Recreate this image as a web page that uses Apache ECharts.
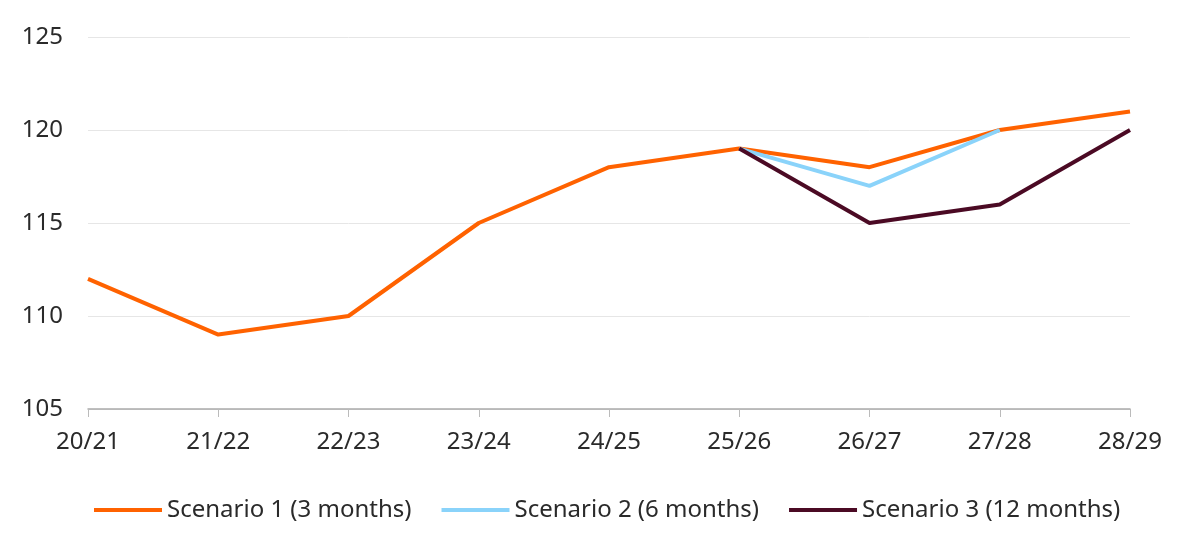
<!DOCTYPE html>
<html>
<head>
<meta charset="utf-8">
<script src="https://cdn.jsdelivr.net/npm/echarts@6/dist/echarts.min.js"></script>
<style>
  html, body { margin: 0; padding: 0; background: #fff; }
  #main { width: 1200px; height: 553px; }
</style>
</head>
<body>
<div id="main"></div>
<script>
var myChart = echarts.init(document.getElementById('main'));

const years = ['20/21', '21/22', '22/23', '23/24', '24/25', '25/26', '26/27', '27/28', '28/29'];
const scenario1 = [112, 109, 110, 115, 118, 119, 118, 120, 121];
const scenario2 = [null, null, null, null, null, 119, 117, 120, null];
const scenario3 = [null, null, null, null, null, 119, 115, 116, 120];

const font = 'Noto Sans';

function lineSeries(name, data, color) {
  return {
    name: name,
    type: 'line',
    data: data,
    symbol: 'none',
    lineStyle: { color: color, width: 4 },
    itemStyle: { color: color },
    emphasis: { disabled: true }
  };
}

const option = {
  animation: false,
  grid: { left: 88, right: 70, top: 37, bottom: 144 },
  legend: {
    top: 493,
    left: 89,
    icon: 'rect',
    itemWidth: 68,
    itemHeight: 4,
    itemGap: 30,
    textStyle: { fontFamily: font, fontSize: 24, color: '#2a2a2a' },
    data: ['Scenario 1 (3 months)', 'Scenario 2 (6 months)', 'Scenario 3 (12 months)']
  },
  xAxis: {
    type: 'category',
    data: years,
    boundaryGap: false,
    axisLine: { lineStyle: { color: '#aaa', width: 1.5 } },
    axisTick: { show: true, length: 8, lineStyle: { color: '#bbb' } },
    axisLabel: { fontFamily: font, fontSize: 24, color: '#2a2a2a', margin: 21 }
  },
  yAxis: {
    type: 'value',
    min: 105,
    max: 125,
    interval: 5,
    axisLine: { show: false },
    axisTick: { show: false },
    splitLine: { lineStyle: { color: '#e6e6e6' } },
    axisLabel: { fontFamily: font, fontSize: 24, color: '#2a2a2a', margin: 25 }
  },
  series: [
    lineSeries('Scenario 1 (3 months)', scenario1, '#FF6200'),
    lineSeries('Scenario 2 (6 months)', scenario2, '#8AD3FA'),
    lineSeries('Scenario 3 (12 months)', scenario3, '#4B0A24')
  ]
};
myChart.setOption(option);
</script>
</body>
</html>
